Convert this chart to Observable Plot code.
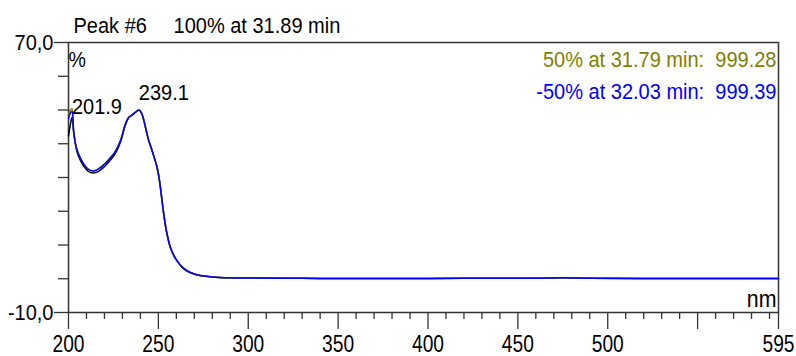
<!DOCTYPE html>
<html>
<head>
<meta charset="utf-8">
<script src="https://cdn.jsdelivr.net/npm/d3@7"></script>
<script src="https://cdn.jsdelivr.net/npm/@observablehq/plot@0.6"></script>
<style>
  html, body { margin: 0; padding: 0; background: #fff; }
  #chart svg { display: block; }
</style>
</head>
<body>
<div id="chart"></div>
<script>
// ---- data ----
const wavelengths = [200, 201, 201.9, 203, 204.7, 206.5, 208.4, 211, 213.9, 216.7,
  220.4, 223, 226, 229, 231.6, 233.5, 235.3, 237.2, 239.1, 240.5,
  241.8, 243.2, 244.6, 246, 247.4, 249.2, 250.2, 251.1, 252, 252.9,
  254, 254.8, 256.6, 258.5, 260.4, 263, 266, 270, 274, 280,
  290, 300, 330, 360, 400, 430, 460, 474, 490, 520, 560, 595];

const spectrum100 = [42.3, 45.6, 47.8, 43.0, 37.7, 35.2, 33.4, 31.8, 31.3, 31.8,
  33.4, 35.0, 37.1, 40.6, 45.5, 47.8, 48.5, 49.3, 50.0, 49.2,
  47.2, 44.0, 41.0, 38.8, 36.4, 33.2, 30.5, 27.2, 23.3, 19.5,
  15.6, 13.3, 9.4, 7.0, 5.3, 3.6, 2.3, 1.4, 0.9, 0.55,
  0.3, 0.2, 0.12, 0.1, 0.1, 0.12, 0.15, 0.3, 0.15, 0.1, 0.1, 0.08];

const spectrumPlus50 = [48.5, 50.0, 50.4, 43.0, 38.3, 35.9, 34.1, 32.5, 32.0, 32.6,
  34.2, 35.7, 37.7, 41.1, 45.8, 47.8, 48.5, 49.3, 50.0, 49.2,
  47.2, 44.0, 41.0, 38.8, 36.4, 33.2, 30.5, 27.2, 23.3, 19.5,
  15.6, 13.3, 9.4, 7.0, 5.3, 3.6, 2.3, 1.4, 0.9, 0.55,
  0.3, 0.2, 0.12, 0.1, 0.1, 0.12, 0.15, 0.3, 0.15, 0.1, 0.1, 0.08];

const spectrumMinus50 = [47.5, 49.0, 49.6, 42.8, 38.2, 35.8, 34.0, 32.4, 31.9, 32.5,
  34.1, 35.6, 37.6, 41.0, 45.8, 47.8, 48.5, 49.3, 50.0, 49.2,
  47.2, 44.0, 41.0, 38.8, 36.4, 33.2, 30.5, 27.2, 23.3, 19.5,
  15.6, 13.3, 9.4, 7.0, 5.3, 3.6, 2.3, 1.4, 0.9, 0.55,
  0.3, 0.2, 0.12, 0.1, 0.1, 0.12, 0.15, 0.3, 0.15, 0.1, 0.1, 0.08];

const peakWavelengths = [201.9, 239.1];
const peakLabels = ["201.9", "239.1"];

const titleParts = ["Peak #6", "100% at 31.89 min"];
const legendLines = ["50% at 31.79 min:  999.28", "-50% at 32.03 min:  999.39"];

const xDomain = [200, 595];
const yDomain = [-10, 70];
const xMinorTicks = d3.range(210, 595, 10).filter(v => v % 50 !== 0);
const xMajorTicks = [200, 250, 300, 350, 400, 450, 500, 550, 595];
const xTickLabels = ["200", "250", "300", "350", "400", "450", "500", "", "595"];
const yMinorTicks = [0, 10, 20, 30, 40, 50, 60];
const yLabelTicks = [-10, 70];
const yTickLabels = ["-10,0", "70,0"];

// ---- tables ----
const series = [
  {name: "100%", values: spectrum100, color: "#000000"},
  {name: "+50%", values: spectrumPlus50, color: "#808000"},
  {name: "-50%", values: spectrumMinus50, color: "#0000ff"}
];
const peaks = peakWavelengths.map((nm, i) => ({
  nm, label: peakLabels[i], value: spectrumMinus50[wavelengths.indexOf(nm)]
}));

const axisColor = "#333333";
const font = "'Liberation Sans', Arial, Helvetica, sans-serif";

const marks = [
  Plot.frame({stroke: axisColor, strokeWidth: 1.5}),
  Plot.axisY({ticks: yMinorTicks, tickSize: 10, tickFormat: () => "", stroke: axisColor, strokeWidth: 1.3, label: null}),
  Plot.axisY({ticks: yLabelTicks, tickSize: 14, tickPadding: 1, stroke: axisColor, strokeWidth: 1.3,
    tickFormat: d => yTickLabels[yLabelTicks.indexOf(d)], fontSize: 22.5, fill: "#000", label: null}),
  Plot.axisX({ticks: xMinorTicks, tickSize: 7, tickFormat: () => "", stroke: axisColor, strokeWidth: 1.3, label: null}),
  Plot.axisX({ticks: xMajorTicks, tickSize: 17, tickPadding: 5, stroke: axisColor, strokeWidth: 1.3,
    tickFormat: d => xTickLabels[xMajorTicks.indexOf(d)], fontSize: 24, fill: "#000", label: null}),
  ...series.map(s => Plot.line(wavelengths.map((nm, i) => ({nm, v: s.values[i]})), {
    x: "nm", y: "v", stroke: s.color, strokeWidth: 1.5, curve: "catmull-rom"
  })),
  Plot.text([titleParts[0]], {frameAnchor: "top-left", textAnchor: "start", lineAnchor: "bottom",
    dx: 5, dy: -10, fontSize: 22.5, fill: "#000", ariaLabel: "wide"}),
  Plot.text([titleParts[1]], {frameAnchor: "top-left", textAnchor: "start", lineAnchor: "bottom",
    dx: 105, dy: -10, fontSize: 22.5, fill: "#000", ariaLabel: "wide"}),
  Plot.text(["%"], {frameAnchor: "top-left", textAnchor: "start", lineAnchor: "bottom",
    dx: 0, dy: 24, fontSize: 22, fill: "#000", ariaLabel: "wide"}),
  Plot.text(["nm"], {frameAnchor: "bottom-right", textAnchor: "end", lineAnchor: "bottom",
    dx: -2, dy: -6, fontSize: 24, fill: "#000", ariaLabel: "narrow"}),
  Plot.text([legendLines[0]], {frameAnchor: "top-right", textAnchor: "end", lineAnchor: "bottom",
    dx: -2, dy: 24, fontSize: 22.5, fill: "#808000", ariaLabel: "wide"}),
  Plot.text([legendLines[1]], {frameAnchor: "top-right", textAnchor: "end", lineAnchor: "bottom",
    dx: -2, dy: 56, fontSize: 22.5, fill: "#0000ff", ariaLabel: "wide"}),
  Plot.text([peaks[0]], {x: "nm", y: "value", text: "label", textAnchor: "start", lineAnchor: "bottom",
    dy: 2.5, fontSize: 22.5, fill: "#000", ariaLabel: "wide"}),
  Plot.text([peaks[1]], {x: "nm", y: "value", text: "label", textAnchor: "start", lineAnchor: "bottom",
    dy: -10, fontSize: 22.5, fill: "#000", ariaLabel: "wide"})
];

const svg = Plot.plot({
  width: 796,
  height: 356,
  marginLeft: 68,
  marginRight: 18,
  marginTop: 42,
  marginBottom: 44,
  style: {fontFamily: font, fontSize: "22.5px", color: "#000", background: "#fff"},
  x: {type: "linear", domain: xDomain},
  y: {type: "linear", domain: yDomain},
  marks
});

// Condense glyphs horizontally to mimic the narrow instrument font
svg.querySelectorAll("text").forEach(t => {
  const g = t.closest("g[aria-label]");
  const lab = g ? g.getAttribute("aria-label") : "";
  const s = (lab === "narrow" || lab === "x-axis tick label") ? 0.8 : 0.89;
  const tr = t.getAttribute("transform");
  if (tr) {
    t.setAttribute("transform", tr + ` scale(${s},1)`);
  } else {
    const x = t.getAttribute("x") || 0;
    t.removeAttribute("x");
    t.setAttribute("transform", `translate(${x},0) scale(${s},1)`);
  }
});

document.getElementById("chart").appendChild(svg);
</script>
</body>
</html>
